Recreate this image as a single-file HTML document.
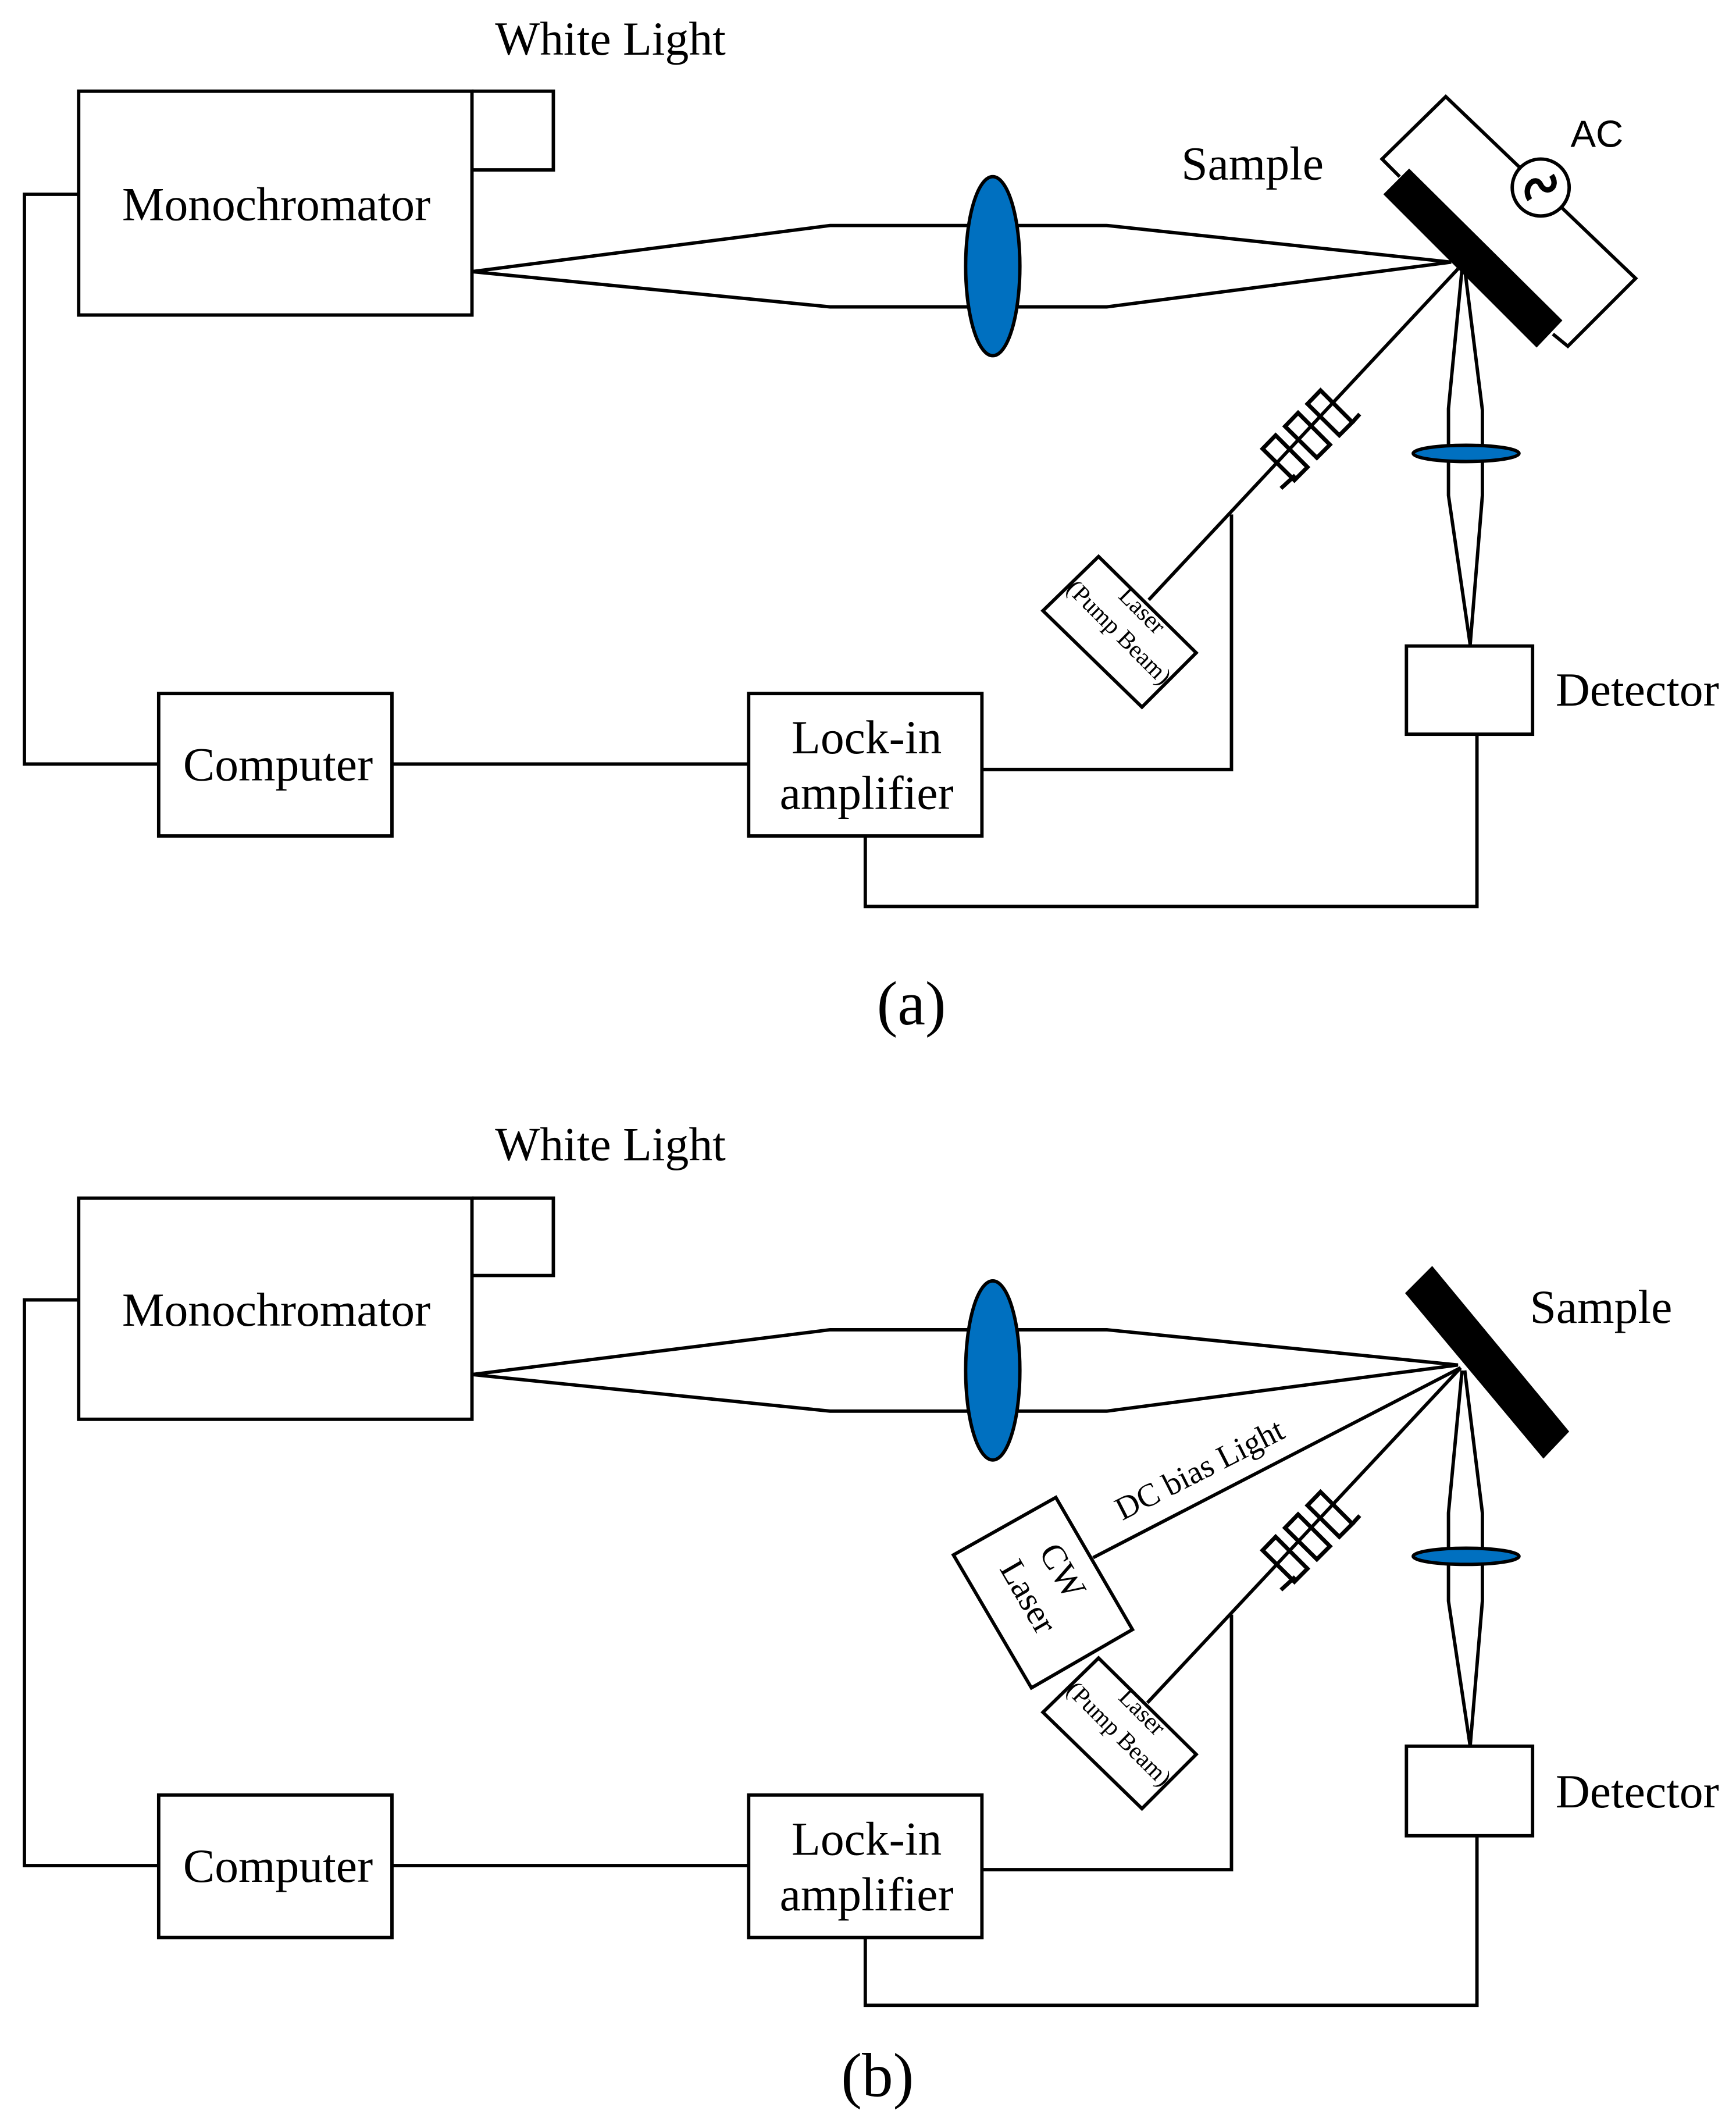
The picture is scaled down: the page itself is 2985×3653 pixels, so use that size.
<!DOCTYPE html>
<html><head><meta charset="utf-8"><style>
html,body{margin:0;padding:0;background:#fff;}
svg{display:block;}
text{font-family:"Liberation Serif",serif;fill:#000;}
</style></head><body>
<svg width="2985" height="3653" viewBox="0 0 1280 1566" xmlns="http://www.w3.org/2000/svg">
<defs>
<g id="chop">
<g transform="translate(750.4,64.3) scale(0.3009)" fill="none" stroke="#000" stroke-width="10">
<polyline points="645,982 680,950"/>
<polygon points="600,885 632,852 710,930 678,962"/>
<polygon points="655,830 687,797 765,875 733,907"/>
<polygon points="710,775 742,742 820,820 788,852"/>
<polyline points="820,820 838,800"/>
</g>
</g>
<g id="pump">
<polygon points="810,410 769,450 842,521 882,481" fill="#fff" stroke="#000" stroke-width="2.5"/>
<text transform="translate(838,454) rotate(45)" font-size="18" text-anchor="middle">Laser</text>
<text transform="translate(821,470) rotate(45)" font-size="18" text-anchor="middle">(Pump Beam)</text>
</g>
</defs>
<g fill="none" stroke="#000" stroke-width="2.5">
<rect x="58" y="67" width="290" height="165"/>
<polyline points="348,67 408,67 408,125 348,125"/>
<polyline points="58,143 18,143 18,563 117,563"/>
<rect x="117" y="511" width="172" height="105"/>
<line x1="289" y1="563" x2="552" y2="563"/>
<rect x="552" y="511" width="172" height="105"/>
<polyline points="724,567 908,567 908,379"/>
<polyline points="638,616 638,668 1089,668 1089,541"/>
<rect x="1037" y="476" width="93" height="65"/>
<polyline points="348,200 612,166 816,166 1070,193 816,226 612,226 348,200"/>
<line x1="1075" y1="198" x2="847" y2="442"/>
<polyline points="1078,198 1068,301 1068,365 1084,475 1093,365 1093,302 1080,198"/>
<polyline points="1032,130 1019,117 1066,71 1206,205 1156,255 1145,246"/>
<rect x="58" y="883" width="290" height="163"/>
<polyline points="348,883 408,883 408,940 348,940"/>
<polyline points="58,958 18,958 18,1375 117,1375"/>
<rect x="117" y="1323" width="172" height="105"/>
<line x1="289" y1="1375" x2="552" y2="1375"/>
<rect x="552" y="1323" width="172" height="105"/>
<polyline points="724,1378 908,1378 908,1190"/>
<polyline points="638,1428 638,1478 1089,1478 1089,1353"/>
<rect x="1037" y="1287" width="93" height="66"/>
<polyline points="348,1013 612,980 816,980 1075,1006 816,1040 612,1040 348,1013"/>
<line x1="1077" y1="1008" x2="806" y2="1148"/>
<line x1="1077" y1="1008" x2="846" y2="1255"/>
<polyline points="1078,1010 1068,1115 1068,1180 1084,1287 1093,1180 1093,1115 1080,1010"/>
<polygon points="703,1146 778.5,1103.6 835,1201 760.5,1244" fill="#fff"/>
</g>
<ellipse cx="732" cy="196" rx="20" ry="66" fill="#0070c0" stroke="#000" stroke-width="2.5"/>
<ellipse cx="1081" cy="334" rx="39" ry="6" fill="#0070c0" stroke="#000" stroke-width="2.5"/>
<ellipse cx="732" cy="1010" rx="20" ry="66" fill="#0070c0" stroke="#000" stroke-width="2.5"/>
<ellipse cx="1081" cy="1147" rx="39" ry="6" fill="#0070c0" stroke="#000" stroke-width="2.5"/>
<polygon points="1039,124 1020,143 1133,256 1152,236" fill="#000"/>
<polygon points="1056,933 1036,953 1138,1075 1157,1055" fill="#000"/>
<circle cx="1136" cy="138" r="21" fill="#fff" stroke="#000" stroke-width="2.5"/>
<path d="M1128,147 C1122,138 1132,128 1136,136 C1140,144 1150,138 1144,129" fill="none" stroke="#000" stroke-width="4"/>
<use href="#chop"/>
<use href="#chop" transform="translate(0,812)"/>
<use href="#pump"/>
<use href="#pump" transform="translate(0,812)"/>
<text x="365" y="40" font-size="35">White Light</text>
<text x="90" y="162" font-size="35">Monochromator</text>
<text x="871" y="132" font-size="35">Sample</text>
<text x="1158" y="108" font-size="28" style="font-family:'Liberation Sans',sans-serif">AC</text>
<text x="135" y="575" font-size="35">Computer</text>
<text x="639" y="555" font-size="35" text-anchor="middle">Lock-in</text>
<text x="639" y="596" font-size="35" text-anchor="middle">amplifier</text>
<text x="1147" y="520" font-size="35">Detector</text>
<text x="672" y="755" font-size="46" text-anchor="middle">(a)</text>
<text x="365" y="855" font-size="35">White Light</text>
<text x="90" y="977" font-size="35">Monochromator</text>
<text x="1128" y="975" font-size="35">Sample</text>
<text x="135" y="1387" font-size="35">Computer</text>
<text x="639" y="1367" font-size="35" text-anchor="middle">Lock-in</text>
<text x="639" y="1408" font-size="35" text-anchor="middle">amplifier</text>
<text x="1147" y="1332" font-size="35">Detector</text>
<text x="647" y="1545" font-size="46" text-anchor="middle">(b)</text>
<text transform="translate(888,1090) rotate(-27)" font-size="24" text-anchor="middle">DC bias Light</text>
<text transform="translate(776,1162) rotate(60)" font-size="26" text-anchor="middle">CW</text>
<text transform="translate(751,1181) rotate(60)" font-size="26" text-anchor="middle">Laser</text>
</svg>
</body></html>
